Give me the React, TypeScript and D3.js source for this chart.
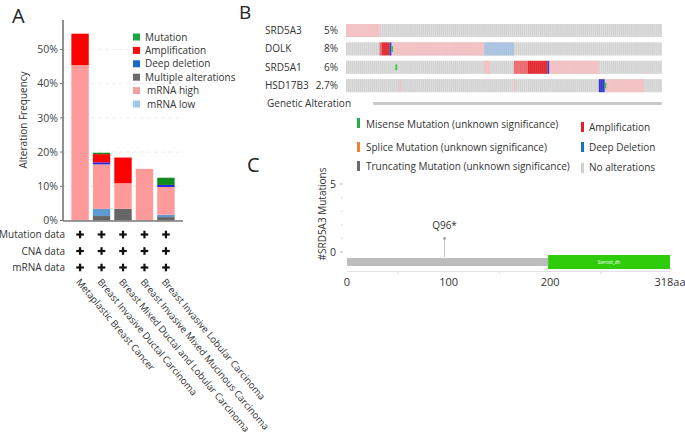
import React from "react";
import * as d3 from "d3";

// ---------- Panel A data ----------
const categories = [
  "Metaplastic Breast Cancer",
  "Breast Invasive Ductal Carcinoma",
  "Breast Mixed Ductal and Lobular Carcinoma",
  "Breast Invasive Mixed Mucinous Carcinoma",
  "Breast Invasive Lobular Carcinoma",
];
const stackKeys = ["multiple", "mrnaLow", "mrnaHigh", "deepDel", "amp", "mutation"];
const multipleVals = [0, 1.3, 3.4, 0, 1.0];
const mrnaLowVals = [0, 2.1, 0, 0, 0.7];
const mrnaHighVals = [45.4, 13.0, 7.5, 15.1, 8.1];
const deepDelVals = [0, 0.6, 0, 0, 0.6];
const ampVals = [9.2, 2.4, 7.5, 0, 0];
const mutationVals = [0, 0.4, 0, 0, 2.1];
const yTicksA = [0, 10, 20, 30, 40, 50];
const legendA = ["Mutation", "Amplification", "Deep deletion", "Multiple alterations", "mRNA high", "mRNA low"];
const dataRows = ["Mutation data", "CNA data", "mRNA data"];

// ---------- Panel B data ----------
const genes = ["SRD5A3", "DOLK", "SRD5A1", "HSD17B3"];
const genePercents = ["5%", "8%", "6%", "2.7%"];
const sampleCount = 160;
const oncoSegments: [number, number, number, string][] = [
  [0, 0, 16, "mrnaHigh"],
  [1, 17, 17, "ampLight"],
  [1, 18, 21, "amp"],
  [1, 22, 22, "deepDel"],
  [1, 23, 23, "mutation"],
  [1, 24, 69, "mrnaHigh"],
  [1, 70, 84, "mrnaLow"],
  [2, 25, 25, "mutation"],
  [2, 70, 72, "mrnaHigh"],
  [2, 85, 91, "ampLight"],
  [2, 92, 101, "amp"],
  [2, 102, 102, "deepDel"],
  [2, 103, 127, "mrnaHigh"],
  [3, 27, 27, "mrnaHigh"],
  [3, 85, 85, "mrnaHigh"],
  [3, 128, 130, "deepDel"],
  [3, 131, 131, "mutation"],
  [3, 132, 150, "mrnaHigh"],
];
const legendBLeft = [
  "Misense Mutation (unknown significance)",
  "Splice Mutation (unknown significance)",
  "Truncating Mutation (unknown significance)",
];
const legendBRight = ["Amplification", "Deep Deletion", "No alterations"];

// ---------- Panel C data ----------
const proteinLength = 318;
const domainStart = 198;
const domainName = "Steroid_dh";
const mutationPositions = [96];
const mutationCounts = [1];
const mutationLabels = ["Q96*"];
const xTicksC = [0, 100, 200, 318];
const xMinorC = [50, 150, 250];
const yTicksC = [0, 5];
const yMinorC = [1, 2, 3, 4];

const FONT = "'Open Sans', 'Noto Sans', sans-serif";

const barColors: Record<string, string> = {
  multiple: "#666666",
  mrnaLow: "#5e9bd3",
  mrnaHigh: "#ff9a9a",
  deepDel: "#2424e6",
  amp: "#ff0000",
  mutation: "#0f8a1c",
};
const legendAColors = ["#17a845", "#ff0a0a", "#1a6ac2", "#6b6b6b", "#f0a0a0", "#a2c6ea"];
const oncoColors: Record<string, string> = {
  mrnaHigh: "#f3c0c3",
  mrnaLow: "#a8c2df",
  amp: "#e3282e",
  ampLight: "#eb6a6e",
  deepDel: "#3838cf",
  mutation: "#3cc23c",
};

function Plus({ x, y }: { x: number; y: number }) {
  return (
    <g fill="#111">
      <rect x={x - 3.8} y={y - 1.1} width={7.6} height={2.2} />
      <rect x={x - 1.1} y={y - 3.8} width={2.2} height={7.6} />
    </g>
  );
}

export default function App() {
  // ----- Panel A scales -----
  const xA = d3.scaleBand<string>().domain(categories).range([63, 183]).paddingInner(0.19).paddingOuter(0.39);
  const yA = d3.scaleLinear().domain([0, 58.6]).range([220.5, 20]);
  const table = categories.map((c, i) => ({
    cat: c,
    multiple: multipleVals[i],
    mrnaLow: mrnaLowVals[i],
    mrnaHigh: mrnaHighVals[i],
    deepDel: deepDelVals[i],
    amp: ampVals[i],
    mutation: mutationVals[i],
  }));
  const stacked = d3.stack<any>().keys(stackKeys)(table);
  const legendAy = d3.scaleLinear().domain([0, 5]).range([37, 104]);
  const rowY = d3.scaleLinear().domain([0, 2]).range([234.5, 267.5]);

  // ----- Panel B scales -----
  const xB = d3.scaleLinear().domain([0, sampleCount]).range([346, 662]);
  const rowB = d3.scaleBand<string>().domain(genes).range([24, 92.2]).paddingInner(0.293);
  const sampleW = xB(1) - xB(0);
  const samples = d3.range(sampleCount);

  // ----- Panel C scales -----
  const xC = d3.scaleLinear().domain([0, proteinLength]).range([347, 670]);
  const yC = d3.scaleLinear().domain([0, 5]).range([252, 184]);

  return (
    <svg
      width={685}
      height={438}
      style={{ position: "absolute", left: 0, top: 0, background: "#fff", fontFamily: FONT }}
    >
      <rect width={685} height={438} fill="#fff" />
      {/* Panel labels */}
      <text x={12} y={23} fontSize={20} fill="#222">A</text>
      <text x={239} y={19} fontSize={19} fill="#222">B</text>
      <text x={247} y={172} fontSize={20} fill="#222">C</text>

      {/* ================= Panel A ================= */}
      {yTicksA.filter((t) => t > 0).map((t) => (
        <line key={"g" + t} x1={63} x2={183} y1={yA(t)} y2={yA(t)} stroke="#ececec" strokeDasharray="4,3" />
      ))}
      {stacked.map((s) => (
        <g key={s.key} fill={barColors[s.key]}>
          {s.map((d, i) =>
            d[1] - d[0] > 0 ? (
              <rect
                key={i}
                x={xA(categories[i])}
                width={xA.bandwidth()}
                y={yA(d[1])}
                height={yA(d[0]) - yA(d[1])}
              />
            ) : null
          )}
        </g>
      ))}
      <line x1={63} x2={63} y1={20} y2={221} stroke="#555" strokeWidth={1.3} />
      <line x1={63} x2={183} y1={221} y2={221} stroke="#777" strokeWidth={1.3} />
      {yTicksA.map((t) => (
        <g key={t}>
          <line x1={60} x2={63} y1={yA(t)} y2={yA(t)} stroke="#777" />
          <text x={58} y={yA(t)} dy="0.35em" textAnchor="end" fontSize={10.5} fill="#444">
            {t}%
          </text>
        </g>
      ))}
      <text
        transform={`translate(23,120) rotate(-90)`}
        textAnchor="middle"
        fontSize={10}
        fill="#333"
        dy="0.35em"
      >
        Alteration Frequency
      </text>
      {legendA.map((l, i) => (
        <g key={l}>
          <rect x={133} y={legendAy(i) - 3.5} width={7} height={7} fill={legendAColors[i]} />
          <text x={i >= 4 ? 147 : 145} y={legendAy(i)} dy="0.35em" fontSize={10} fill="#333">
            {l}
          </text>
        </g>
      ))}
      {dataRows.map((r, j) => (
        <g key={r}>
          <text x={65} y={rowY(j)} dy="0.35em" textAnchor="end" fontSize={10} fill="#333">
            {r}
          </text>
          {categories.map((c) => (
            <Plus key={c} x={(xA(c) as number) + xA.bandwidth() / 2} y={rowY(j)} />
          ))}
        </g>
      ))}
      {categories.map((c) => (
        <text
          key={c}
          transform={`translate(${(xA(c) as number) + xA.bandwidth() / 2 - 2},280) rotate(50)`}
          fontSize={9.6}
          fill="#333"
          dy="0.35em"
        >
          {c}
        </text>
      ))}

      {/* ================= Panel B ================= */}
      {genes.map((g, gi) => {
        const y0 = rowB(g) as number;
        const h = rowB.bandwidth();
        return (
          <g key={g}>
            <text x={265} y={y0 + h / 2} dy="0.35em" fontSize={10} fill="#333">
              {g}
            </text>
            <text x={338} y={y0 + h / 2} dy="0.35em" textAnchor="end" fontSize={10} fill="#333">
              {genePercents[gi]}
            </text>
            <rect x={xB(0)} y={y0} width={xB(sampleCount) - xB(0)} height={h} fill="#e6e6e6" />
            {samples.map((s) => (
              <rect key={s} x={xB(s)} y={y0} width={sampleW * 0.75} height={h} fill="#d2d2d2" />
            ))}
            {oncoSegments
              .filter((seg) => seg[0] === gi)
              .map((seg, k) => {
                const [, a, b, type] = seg;
                if (type === "mutation") {
                  return (
                    <rect
                      key={k}
                      x={xB(a)}
                      y={y0 + h * 0.28}
                      width={sampleW * 0.9}
                      height={h * 0.44}
                      fill={oncoColors.mutation}
                    />
                  );
                }
                return (
                  <g key={k}>
                    <rect
                      x={xB(a)}
                      y={y0}
                      width={xB(b + 1) - xB(a)}
                      height={h}
                      fill={oncoColors[type]}
                    />
                    {d3.range(a, b + 1).map((s) => (
                      <line
                        key={s}
                        x1={xB(s) + sampleW * 0.86}
                        x2={xB(s) + sampleW * 0.86}
                        y1={y0}
                        y2={y0 + h}
                        stroke="#fff"
                        strokeOpacity={0.18}
                        strokeWidth={0.5}
                      />
                    ))}
                  </g>
                );
              })}
          </g>
        );
      })}
      <text x={267} y={103.5} dy="0.35em" fontSize={10} fill="#333">
        Genetic Alteration
      </text>
      <rect x={373} y={102} width={289} height={3} fill="#c9c9c9" rx={1} />
      {legendBLeft.map((l, i) => (
        <g key={l}>
          <rect
            x={357}
            y={[118, 142, 161][i]}
            width={3}
            height={10}
            fill={["#1fb04a", "#f08038", "#6a6a6a"][i]}
          />
          <text x={366} y={[124, 147, 166][i]} dy="0.35em" fontSize={10} fill="#333">
            {l}
          </text>
        </g>
      ))}
      {legendBRight.map((l, i) => (
        <g key={l}>
          <rect
            x={581}
            y={[122, 142, 163][i]}
            width={3}
            height={10}
            fill={["#ee1c24", "#1a70c0", "#d0d0d0"][i]}
          />
          <text x={589} y={[127.5, 147, 167.5][i]} dy="0.35em" fontSize={10} fill="#333">
            {l}
          </text>
        </g>
      ))}

      {/* ================= Panel C ================= */}
      <text
        transform={`translate(322,214) rotate(-90)`}
        textAnchor="middle"
        dy="0.35em"
        fontSize={10}
        fill="#333"
      >
        #SRD5A3 Mutations
      </text>
      {yTicksC.map((t) => (
        <g key={t}>
          <line x1={340} x2={343} y1={yC(t)} y2={yC(t)} stroke="#bbb" />
          <text x={336} y={yC(t)} dy="0.35em" textAnchor="end" fontSize={10.5} fill="#333">
            {t}
          </text>
        </g>
      ))}
      {yMinorC.map((t) => (
        <line key={t} x1={341.5} x2={343} y1={yC(t)} y2={yC(t)} stroke="#ccc" />
      ))}
      {mutationPositions.map((p, i) => (
        <g key={p}>
          <line x1={xC(p)} x2={xC(p)} y1={257} y2={yC(mutationCounts[i])} stroke="#c4c4c4" strokeWidth={1} />
          <circle cx={xC(p)} cy={yC(mutationCounts[i])} r={1.3} fill="#999" />
          <text x={xC(p)} y={yC(mutationCounts[i]) - 9} textAnchor="middle" fontSize={10} fill="#333">
            {mutationLabels[i]}
          </text>
        </g>
      ))}
      <rect x={xC(0)} y={258} width={xC(domainStart) - xC(0)} height={8} fill="#bcbcbc" />
      <rect x={xC(domainStart)} y={255} width={xC(proteinLength) - xC(domainStart)} height={14} fill="#2ecc0a" />
      <text
        x={(xC(domainStart) + xC(proteinLength)) / 2}
        y={262}
        dy="0.35em"
        textAnchor="middle"
        fontSize={4.5}
        fill="#fff"
      >
        {domainName}
      </text>
      <line x1={xC(0)} x2={xC(proteinLength)} y1={271.5} y2={271.5} stroke="#e2e2e2" />
      {xMinorC.map((t) => (
        <line key={t} x1={xC(t)} x2={xC(t)} y1={271.5} y2={274} stroke="#ddd" />
      ))}
      {xTicksC.map((t) => (
        <text key={t} x={xC(t)} y={286} textAnchor="middle" fontSize={11} fill="#333">
          {t === proteinLength ? `${t}aa` : t}
        </text>
      ))}
    </svg>
  );
}
